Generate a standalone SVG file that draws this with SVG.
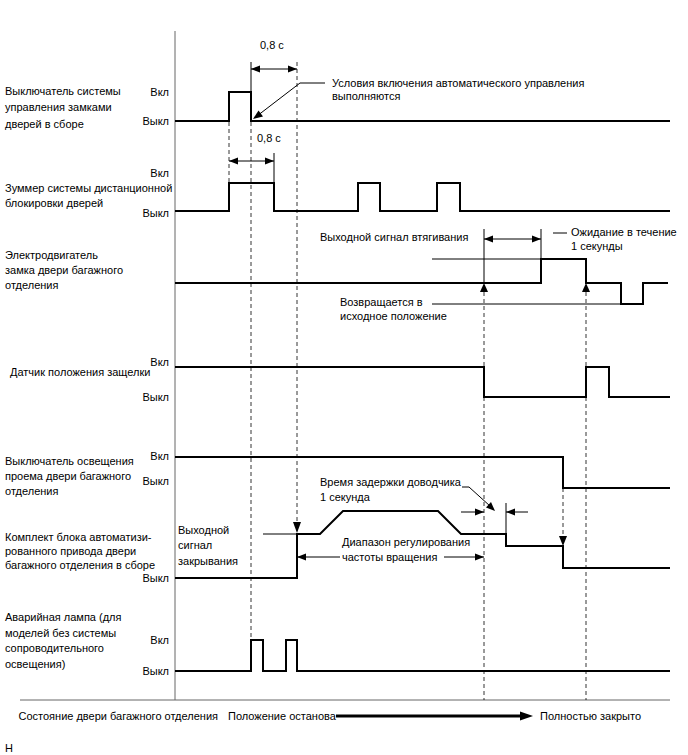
<svg xmlns="http://www.w3.org/2000/svg" width="688" height="755" viewBox="0 0 688 755">
<style>
text{font-family:"Liberation Sans",Arial,sans-serif;font-size:11px;fill:#000}
.r{text-anchor:end}
.sig{fill:none;stroke:#000;stroke-width:2}
.thin{fill:none;stroke:#000;stroke-width:1}
.axis{fill:none;stroke:#666;stroke-width:1}
.dash{fill:none;stroke:#000;stroke-width:0.8;stroke-dasharray:4 3}
.ah{fill:#000}
</style>
<rect width="688" height="755" fill="#fff"/>
<g id="axes">
<line class="axis" x1="175" y1="31" x2="175" y2="700"/>
<line class="axis" x1="20" y1="700" x2="670" y2="700"/>
</g>
<g id="connectors">
<line class="dash" x1="229" y1="122" x2="229" y2="183"/>
<line class="dash" x1="251" y1="122" x2="251" y2="640"/>
<line class="dash" x1="297" y1="62" x2="297" y2="522"/>
<line class="dash" x1="484" y1="292" x2="484" y2="700"/>
<line class="dash" x1="586" y1="292" x2="586" y2="700"/>
<line class="dash" x1="563" y1="488" x2="563" y2="536"/>
<polygon class="ah" points="293,522 301,522 297,533"/>
<polygon class="ah" points="559,536 567,536 563,546"/>
<polygon class="ah" points="480,292 488,292 484,283"/>
<polygon class="ah" points="582,292 590,292 586,283"/>
<line class="thin" x1="251" y1="62" x2="251" y2="92"/>
<line class="thin" x1="251" y1="69" x2="297" y2="69"/>
<polygon class="ah" points="251,69 260,65.5 260,72.5"/>
<polygon class="ah" points="297,69 288,65.5 288,72.5"/>
<line class="thin" x1="274" y1="153" x2="274" y2="183"/>
<line class="thin" x1="229" y1="161" x2="274" y2="161"/>
<polygon class="ah" points="229,161 238,157.5 238,164.5"/>
<polygon class="ah" points="274,161 265,157.5 265,164.5"/>
<polyline class="thin" points="325,83 300,83 257,116"/>
<polygon class="ah" points="253,119 258.5,110.5 263,116.5"/>
<line class="thin" x1="484" y1="229" x2="484" y2="283"/>
<line class="thin" x1="541" y1="229" x2="541" y2="259"/>
<line class="thin" x1="484" y1="239" x2="541" y2="239"/>
<polygon class="ah" points="484,239 493,235.5 493,242.5"/>
<polygon class="ah" points="541,239 532,235.5 532,242.5"/>
<line class="thin" x1="553" y1="233" x2="567" y2="233"/>
<line class="thin" x1="432" y1="259" x2="541" y2="259"/>
<line class="thin" x1="432" y1="304" x2="621" y2="304"/>
<line class="thin" x1="263" y1="534" x2="297" y2="534"/>
<line class="thin" x1="340" y1="557" x2="297" y2="557"/>
<polygon class="ah" points="297,557 306,553.5 306,560.5"/>
<line class="thin" x1="444" y1="557" x2="484" y2="557"/>
<polygon class="ah" points="484,557 475,553.5 475,560.5"/>
<line class="thin" x1="506" y1="503" x2="506" y2="534"/>
<line class="thin" x1="461" y1="512" x2="484" y2="512"/>
<polygon class="ah" points="484,512 475,508.5 475,515.5"/>
<line class="thin" x1="528" y1="512" x2="506" y2="512"/>
<polygon class="ah" points="506,512 515,508.5 515,515.5"/>
<polyline class="thin" points="462,487 469,487 490,506"/>
<polygon class="ah" points="495,511 486,507.5 491,502"/>
<line x1="336" y1="716" x2="522" y2="716" stroke="#000" stroke-width="3"/>
<polygon class="ah" points="533,716 520,711.5 520,720.5"/>
</g>
<g id="sig1">
<text x="5" y="95">Выключатель системы</text>
<text x="5" y="111">управления замками</text>
<text x="5" y="128">дверей в сборе</text>
<text class="r" x="169" y="96">Вкл</text>
<text class="r" x="169" y="125">Выкл</text>
<path class="sig" d="M175,121 H229 V92 H251 V121 H670"/>
<text x="260" y="49">0,8 с</text>
<text x="332" y="87">Условия включения автоматического управления</text>
<text x="332" y="100">выполняются</text>
</g>
<g id="sig2">
<text x="5" y="192">Зуммер системы дистанционной</text>
<text x="5" y="207">блокировки дверей</text>
<text class="r" x="169" y="177">Вкл</text>
<text class="r" x="169" y="217">Выкл</text>
<path class="sig" d="M175,211 H229 V183 H274 V211 H358 V183 H380 V211 H437 V183 H460 V211 H670"/>
<text x="257" y="142">0,8 с</text>
</g>
<g id="sig3">
<text x="5" y="259">Электродвигатель</text>
<text x="5" y="274">замка двери багажного</text>
<text x="5" y="289">отделения</text>
<path class="sig" d="M175,283 H541 V259 H586 V283 H621 V304 H643 V283 H668"/>
<text x="320" y="241">Выходной сигнал втягивания</text>
<text x="571" y="236">Ожидание в течение</text>
<text x="571" y="250">1 секунды</text>
<text x="340" y="306">Возвращается в</text>
<text x="340" y="320">исходное положение</text>
</g>
<g id="sig4">
<text x="10" y="376">Датчик положения защелки</text>
<text class="r" x="169" y="366">Вкл</text>
<text class="r" x="169" y="401">Выкл</text>
<path class="sig" d="M175,367 H484 V397 H586 V367 H609 V397 H670"/>
</g>
<g id="sig5">
<text x="5" y="465">Выключатель освещения</text>
<text x="5" y="480">проема двери багажного</text>
<text x="5" y="495">отделения</text>
<text class="r" x="169" y="460">Вкл</text>
<text class="r" x="169" y="485">Выкл</text>
<path class="sig" d="M175,457 H563 V488 H670"/>
</g>
<g id="sig6">
<text x="5" y="541">Комплект блока автоматизи-</text>
<text x="5" y="555">рованного привода двери</text>
<text x="5" y="569">багажного отделения в сборе</text>
<text class="r" x="169" y="582">Выкл</text>
<path class="sig" d="M175,578 H297 V534 H320 L343,511 H438 L461,534 H506 V546 H563 V568 H670"/>
<text x="178" y="534">Выходной</text>
<text x="178" y="549">сигнал</text>
<text x="178" y="565">закрывания</text>
<text x="320" y="486">Время задержки доводчика</text>
<text x="320" y="501">1 секунда</text>
<text x="342" y="546">Диапазон регулирования</text>
<text x="342" y="561">частоты вращения</text>
</g>
<g id="sig7">
<text x="5" y="621">Аварийная лампа (для</text>
<text x="5" y="637">моделей без системы</text>
<text x="5" y="652">сопроводительного</text>
<text x="5" y="668">освещения)</text>
<text class="r" x="169" y="644">Вкл</text>
<text class="r" x="169" y="675">Выкл</text>
<path class="sig" d="M175,671 H251 V640 H263 V671 H286 V640 H297 V671 H670"/>
</g>
<g id="bottom">
<text class="r" x="218" y="720">Состояние двери багажного отделения</text>
<text x="228" y="720">Положение останова</text>
<text x="540" y="720">Полностью закрыто</text>
<text x="5" y="752">H</text>
</g>
</svg>
